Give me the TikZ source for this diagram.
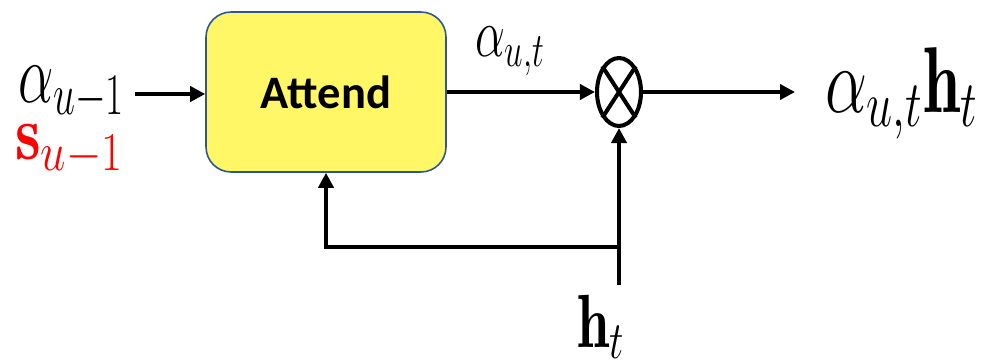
\RequirePackage{fix-cm}
\documentclass[tikz,border=0pt]{standalone}
\usepackage{fontspec}
\usepackage{graphicx}
\usepackage{xcolor}
\usepackage{tikz}
\usetikzlibrary{arrows.meta, shapes.geometric}

\newfontfamily\boxfont{Carlito}
\definecolor{boxedge}{RGB}{47,85,151}
\newcommand{\tallmath}[2][1.3]{\scalebox{1}[#1]{$#2$}}

\begin{document}
\begin{tikzpicture}[x=0.02cm, y=-0.02cm,
    arr/.style={-{Triangle[length=0.3cm, width=0.3cm]}, line width=2.3pt},
    lbl/.style={inner sep=0pt, anchor=base west, font=\fontsize{#1}{#1}\selectfont},
    blockbox/.style={rectangle, rounded corners=0.5cm, draw=boxedge, line width=0.9pt, fill=yellow!60,
        minimum width=4.8cm, minimum height=3.2cm, font=\boxfont\bfseries\fontsize{26.5}{30}\selectfont},
    mulnode/.style={ellipse, draw, line width=2.3pt, inner sep=0pt, minimum width=0.88cm, minimum height=1.36cm}]
    \useasboundingbox (0,0) rectangle (982,363);

    % Inputs
    \node[lbl=32] (in_alpha) at (18,102) {\tallmath[1.5]{\alpha_{u-1}}};
    \node[lbl=37, text=red] (in_s) at (15,159) {\tallmath[1.2]{\mathbf{s}_{u-1}}};

    % Attend block
    \node[blockbox] (attend) at (326,92) {Attend};
    \coordinate (in_start) at (135,94);
    \draw[arr] (in_start) -- (in_start -| attend.west);

    % Multiplier
    \node[mulnode] (mul) at (619,92) {};
    \draw[line width=2.3pt] (mul.57) -- (mul.237) (mul.123) -- (mul.303);
    \node[lbl=27] (weight) at (475,56) {\tallmath[1.45]{\alpha_{u,t}}};
    \draw[arr] (attend.east) -- (mul.west);

    % Output
    \node[lbl=38] (out) at (825,112) {\tallmath[1.4]{\alpha_{u,t}\mathbf{h}_t}};
    \coordinate (out_end) at (795,92);
    \draw[arr] (mul.east) -- (out_end);

    % h_t and feedback
    \node[lbl=33] (ht) at (577,347) {\tallmath[1.3]{\mathbf{h}_t}};
    \coordinate (ht_top) at (619,285);
    \draw[arr] (ht_top) -- (mul.south);
    \coordinate (join) at (619,247);
    \draw[arr] (join) -| (attend.south);
\end{tikzpicture}
\end{document}
